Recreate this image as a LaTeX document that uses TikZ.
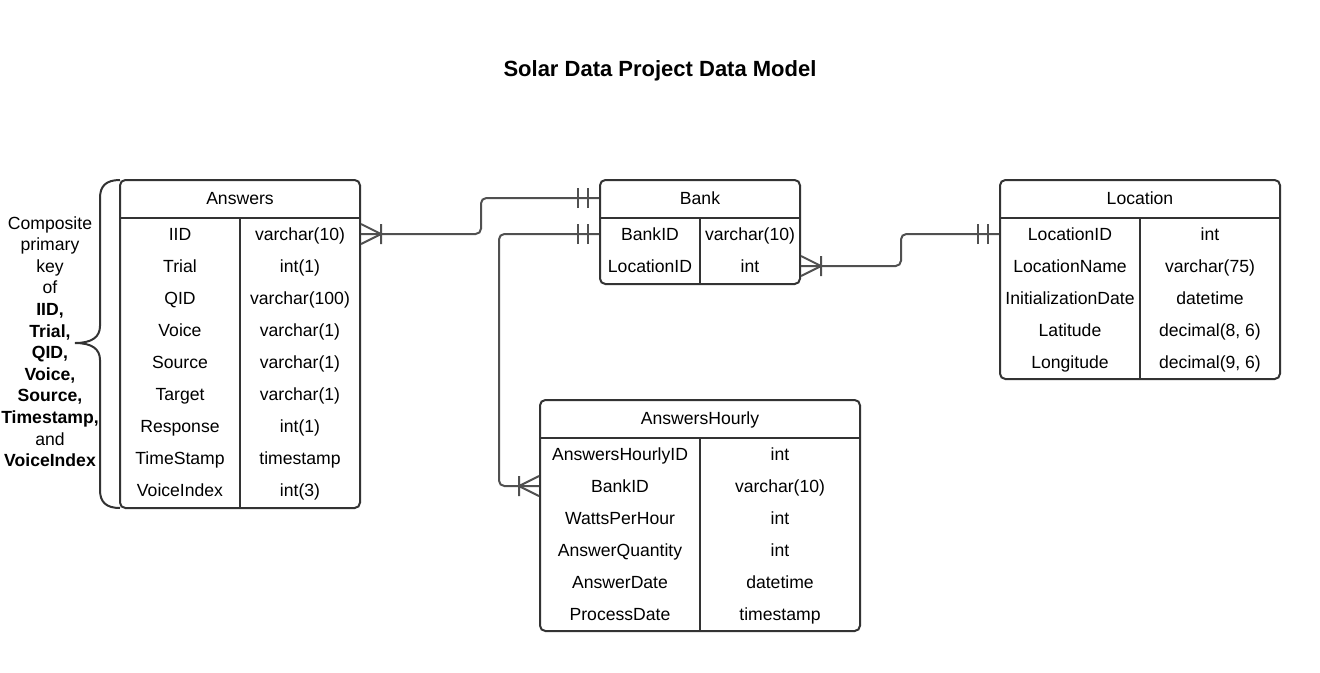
\documentclass[tikz,border=0pt]{standalone}
\usepackage{fontspec}
\setmainfont{Liberation Sans}
\usepackage{tikz}
\usetikzlibrary{fit,calc}

\definecolor{tblline}{RGB}{51,51,51}
\definecolor{relline}{RGB}{80,80,80}

\tikzset{
	tbl/.style={draw=tblline, line width=1.5pt, rounded corners=4pt, inner sep=0pt},
	tblin/.style={draw=tblline, line width=1.5pt},
	cell/.style={inner sep=0.75pt, font=\fontsize{13.2}{16}\selectfont, text height=9.45pt, text depth=0pt},
	rel/.style={draw=relline, line width=1.5pt, rounded corners=4pt},
	crowsfoot/.pic={\draw[rel, rounded corners=0pt] (20,-10) -- (20,10) (0,-10) -- (20,0) -- (0,10);},
	onlyone/.pic={\draw[rel, rounded corners=0pt] (-11,-10) -- (-11,10) (-21,-10) -- (-21,10);}
}

\begin{document}
\begin{tikzpicture}[x=0.75pt,y=0.75pt,yscale=-1,xscale=1]
	\useasboundingbox (0,0) rectangle (1320,672);
	
	% Title
	\node [inner sep=0.75pt, font=\bfseries\fontsize{16.5}{20}\selectfont, text height=11.8pt, text depth=0pt] (title) at (660,68.5) {Solar Data Project Data Model};
	
	%Shape: Table [Answers]
	\node [tbl, fit={(120,180) (360,508)}] (answers) {};
	\draw [tblin] (120,218) -- (360,218) (240,218) -- (240,508);
	%Shape: Table [Bank]
	\node [tbl, fit={(600,180) (800,284)}] (bank) {};
	\draw [tblin] (600,218) -- (800,218) (700,218) -- (700,284);
	%Shape: Table [Location]
	\node [tbl, fit={(1000,180) (1280,379)}] (location) {};
	\draw [tblin] (1000,218) -- (1280,218) (1140,218) -- (1140,379);
	%Shape: Table [AnswersHourly]
	\node [tbl, fit={(540,400) (860,631)}] (hourly) {};
	\draw [tblin] (540,438) -- (860,438) (700,438) -- (700,631);
	
	% Text Node
	\node [cell] (ansHead) at (240,198) {Answers};
	\node [cell] (ansIID) at (180,234) {IID};
	\node [cell] (ansIIDtype) at (300,234) {varchar(10)};
	\node [cell] (ansTrial) at (180,266) {Trial};
	\node [cell] (ansTrialtype) at (300,266) {int(1)};
	\node [cell] (ansQID) at (180,298) {QID};
	\node [cell] (ansQIDtype) at (300,298) {varchar(100)};
	\node [cell] (ansVoice) at (180,330) {Voice};
	\node [cell] (ansVoicetype) at (300,330) {varchar(1)};
	\node [cell] (ansSource) at (180,362) {Source};
	\node [cell] (ansSourcetype) at (300,362) {varchar(1)};
	\node [cell] (ansTarget) at (180,394) {Target};
	\node [cell] (ansTargettype) at (300,394) {varchar(1)};
	\node [cell] (ansResp) at (180,426) {Response};
	\node [cell] (ansResptype) at (300,426) {int(1)};
	\node [cell] (ansTime) at (180,458) {TimeStamp};
	\node [cell] (ansTimetype) at (300,458) {timestamp};
	\node [cell] (ansVIdx) at (180,490) {VoiceIndex};
	\node [cell] (ansVIdxtype) at (300,490) {int(3)};
	
	% Text Node
	\node [cell] (bankHead) at (700,198) {Bank};
	\node [cell] (bankID) at (650,234) {BankID};
	\node [cell] (bankIDtype) at (750,234) {varchar(10)};
	\node [cell] (bankLocID) at (650,266) {LocationID};
	\node [cell] (bankLocIDtype) at (750,266) {int};
	
	% Text Node
	\node [cell] (locHead) at (1140,198) {Location};
	\node [cell] (locID) at (1070,234) {LocationID};
	\node [cell] (locIDtype) at (1210,234) {int};
	\node [cell] (locName) at (1070,266) {LocationName};
	\node [cell] (locNametype) at (1210,266) {varchar(75)};
	\node [cell] (locInit) at (1070,298) {InitializationDate};
	\node [cell] (locInittype) at (1210,298) {datetime};
	\node [cell] (locLat) at (1070,330) {Latitude};
	\node [cell] (locLattype) at (1210,330) {decimal(8, 6)};
	\node [cell] (locLon) at (1070,362) {Longitude};
	\node [cell] (locLontype) at (1210,362) {decimal(9, 6)};
	
	% Text Node
	\node [cell] (hourHead) at (700,418) {AnswersHourly};
	\node [cell] (hourID) at (620,454) {AnswersHourlyID};
	\node [cell] (hourIDtype) at (780,454) {int};
	\node [cell] (hourBankID) at (620,486) {BankID};
	\node [cell] (hourBankIDtype) at (780,486) {varchar(10)};
	\node [cell] (hourWatts) at (620,518) {WattsPerHour};
	\node [cell] (hourWattstype) at (780,518) {int};
	\node [cell] (hourQty) at (620,550) {AnswerQuantity};
	\node [cell] (hourQtytype) at (780,550) {int};
	\node [cell] (hourAns) at (620,582) {AnswerDate};
	\node [cell] (hourAnstype) at (780,582) {datetime};
	\node [cell] (hourProc) at (620,614) {ProcessDate};
	\node [cell] (hourProctype) at (780,614) {timestamp};
	
	%Shape: Brace
	\draw [tblin] (120,180) .. controls (106,180) and (100,186) .. (100,198) -- (100,326) .. controls (100,337) and (92,343) .. (75,343) .. controls (92,343) and (100,349) .. (100,360) -- (100,490) .. controls (100,502) and (106,508) .. (120,508);
	% Text Node
	\node [inner sep=0.75pt, align=center, font=\fontsize{13.2}{16.2}\selectfont] (keynote) at (50,341.5) {Composite\\primary\\key\\of\\\textbf{IID,}\\\textbf{Trial,}\\\textbf{QID,}\\\textbf{Voice,}\\\textbf{Source,}\\\textbf{Timestamp,}\\and\\\textbf{VoiceIndex}};
	
	%Straight Lines [Answers - Bank]
	\draw [rel] (answers.east |- ansIID) -- ++(120,0) |- (bank.west |- bankHead);
	\pic at (answers.east |- ansIID) {crowsfoot};
	\pic at (bank.west |- bankHead) {onlyone};
	%Straight Lines [Bank - AnswersHourly]
	\draw [rel] (bank.west |- bankID) -- ++(-100,0) |- (hourly.west |- hourBankID);
	\pic at (bank.west |- bankID) {onlyone};
	\pic [rotate=180] at (hourly.west |- hourBankID) {crowsfoot};
	%Straight Lines [Bank - Location]
	\draw [rel] (bank.east |- bankLocID) -- ++(100,0) |- (location.west |- locID);
	\pic at (bank.east |- bankLocID) {crowsfoot};
	\pic at (location.west |- locID) {onlyone};
	
\end{tikzpicture}
\end{document}
